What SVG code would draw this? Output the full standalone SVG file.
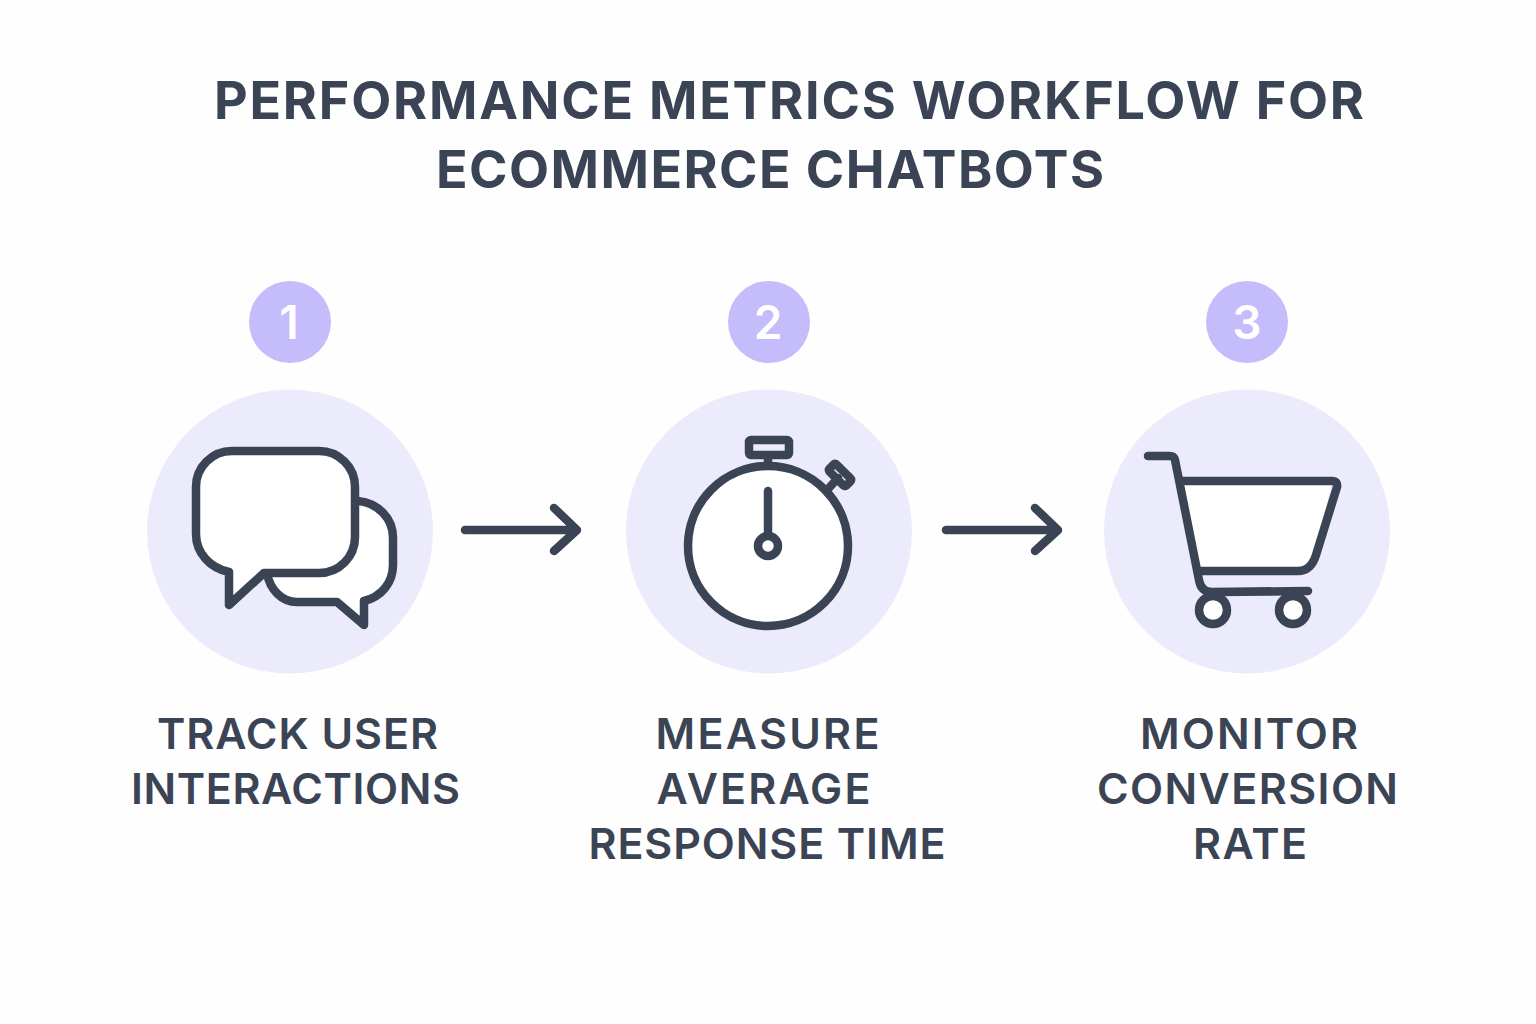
<svg xmlns="http://www.w3.org/2000/svg" width="1536" height="1024" viewBox="0 0 1536 1024">
<style>
text{font-family:Inter,"Liberation Sans",sans-serif;fill:#3b4454;text-anchor:middle;font-weight:700}
.t{font-size:52px}
.l{font-size:43px;font-weight:600}
.n{font-size:46px;fill:#fff;font-weight:600}
.big{fill:#ecebfc}
.badge{fill:#c5bcfb}
.i{fill:none;stroke:#3b4454;stroke-width:8.5;stroke-linecap:round;stroke-linejoin:round}
.w{fill:#fff}
</style>
<rect width="1536" height="1024" fill="#fefefe"/>
<g id="title">
<text class="t" x="789" y="119" textLength="1150" lengthAdjust="spacing">PERFORMANCE METRICS WORKFLOW FOR</text>
<text class="t" x="770" y="188" textLength="668" lengthAdjust="spacing">ECOMMERCE CHATBOTS</text>
</g>
<g id="step1">
<circle class="badge" cx="290" cy="322" r="41"/>
<text class="n" x="289" y="339">1</text>
<ellipse class="big" cx="290" cy="531.5" rx="143" ry="142"/>
<path class="i w" d="M358 501C378 503 393 518 393 538V565C393 583 381 597 364 601V625L337 602H297C282 602 270 590 267 573Z"/>
<path class="i w" d="M232 451H319C339 451 355 467 355 487V537C355 557 339 573 319 573H264L229 605V572C210 568 196 553 196 534V487C196 467 212 451 232 451Z"/>
<text class="l" x="297.5" y="749" textLength="281" lengthAdjust="spacing">TRACK USER</text>
<text class="l" x="295.5" y="804" textLength="329" lengthAdjust="spacing">INTERACTIONS</text>
</g>
<g id="step2">
<circle class="badge" cx="769" cy="322" r="41"/>
<text class="n" x="768" y="339">2</text>
<ellipse class="big" cx="769" cy="531.5" rx="143" ry="142"/>
<circle class="i w" cx="768" cy="546" r="80"/>
<rect class="i" x="749" y="440" width="40" height="15" rx="2"/>
<path class="i" d="M768 457V465M828 489L838 478M768 491V535"/>
<rect class="i" x="-12" y="-5" width="24" height="10" rx="2" transform="translate(840 475) rotate(45)"/>
<circle class="i w" cx="768" cy="546" r="10"/>
<text class="l" x="767.5" y="749" textLength="224" lengthAdjust="spacing">MEASURE</text>
<text class="l" x="763.5" y="804" textLength="214" lengthAdjust="spacing">AVERAGE</text>
<text class="l" x="767" y="859" textLength="357" lengthAdjust="spacing">RESPONSE TIME</text>
</g>
<g id="step3">
<circle class="badge" cx="1247" cy="322" r="41"/>
<text class="n" x="1247" y="339">3</text>
<ellipse class="big" cx="1247" cy="531.5" rx="143" ry="142"/>
<path class="w" d="M1180 481H1332L1316 555Q1312 571 1304 571H1198Z"/>
<path class="i" d="M1148 456H1170Q1174 456 1175 460L1199 580Q1201 592 1212 592L1308 591"/>
<path class="i" d="M1180 481H1332Q1338 481 1337 487L1316 555Q1311 571 1298 571H1198"/>
<circle class="i w" cx="1213" cy="610" r="14"/>
<circle class="i w" cx="1293" cy="610" r="14"/>
<text class="l" x="1249" y="749" textLength="218" lengthAdjust="spacing">MONITOR</text>
<text class="l" x="1247.5" y="804" textLength="301" lengthAdjust="spacing">CONVERSION</text>
<text class="l" x="1250" y="859" textLength="114" lengthAdjust="spacing">RATE</text>
</g>
<g id="connectors">
<path class="i" d="M465 530H577M554 508L577 530L554 551"/>
<path class="i" d="M946 530H1058M1035 508L1058 530L1035 551"/>
</g>
</svg>
